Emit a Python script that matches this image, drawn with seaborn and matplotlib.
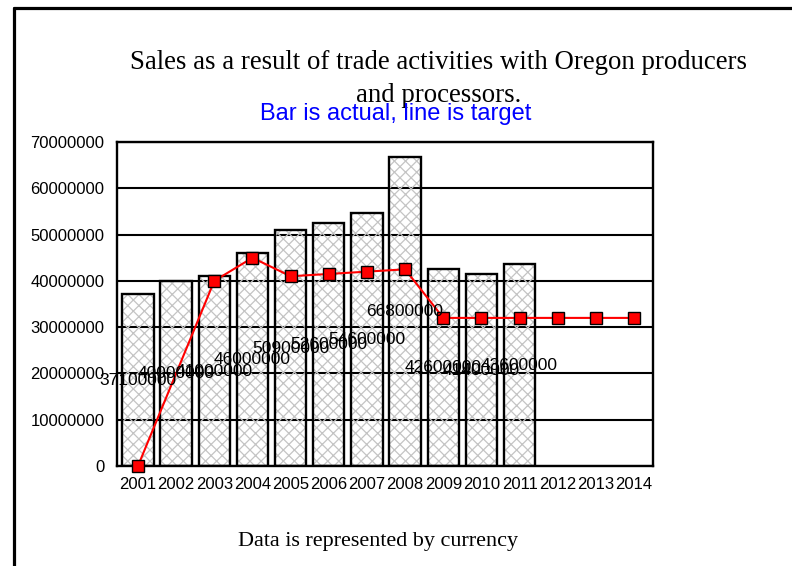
import pandas as pd
import numpy as np
import matplotlib.pyplot as plt
import seaborn as sns

# Chart data

years = [2001, 2002, 2003, 2004, 2005, 2006, 2007, 2008, 2009, 2010, 2011, 2012, 2013, 2014]
actual = [37100000, 40000000, 41000000, 46000000, 50900000, 52600000, 54600000,
          66800000, 42600000, 41400000, 43600000, None, None, None]
target = [0, None, 40000000, 45000000, 41000000, 41500000, 42000000,
          42500000, 32000000, 32000000, 32000000, 32000000, 32000000, 32000000]

title = 'Sales as a result of trade activities with Oregon producers\nand processors.'
subtitle = 'Bar is actual, line is target'
footer = 'Data is represented by currency'

df = pd.DataFrame({'year': years, 'actual': actual, 'target': target})
df_bars = df.dropna(subset=['actual'])
df_line = df.dropna(subset=['target'])

# Style

sns.set_style('white')
plt.rcParams['font.family'] = ['Liberation Sans', 'DejaVu Sans']
plt.rcParams['text.color'] = 'black'
plt.rcParams['hatch.linewidth'] = 0.9

fig = plt.figure(figsize=(7.92, 5.66), dpi=100)
ax = fig.add_axes([0.1477, 0.1767, 0.677, 0.5723])

# Bars: grey hatch first, then black outline on top

sns.barplot(data=df_bars, x='year', y='actual', native_scale=True, width=0.82,
            facecolor='none', edgecolor='#c4c4c4', linewidth=0, hatch='xxx',
            ax=ax, zorder=2)
sns.barplot(data=df_bars, x='year', y='actual', native_scale=True, width=0.82,
            color='black', fill=False, linewidth=1.7, ax=ax, zorder=3)

ax.bar_label(ax.containers[-1], labels=[f'{v:.0f}' for v in df_bars['actual']],
             label_type='center', fontsize=12.5, color='black', zorder=5)

# Target line

sns.lineplot(data=df_line, x='year', y='target', color='red', linewidth=1.5,
             marker='s', markersize=9, markerfacecolor='red', markeredgecolor='black',
             markeredgewidth=1.0, ax=ax, zorder=4, clip_on=False)

# Axes

ax.set_xlim(2000.45, 2014.5)
ax.set_ylim(0, 70000000)
ax.set_xticks(years)
ax.set_xticklabels([str(y) for y in years])
ax.set_yticks(np.arange(0, 70000001, 10000000))
ax.ticklabel_format(style='plain', axis='y', useOffset=False)
ax.tick_params(axis='both', length=0, labelsize=12, colors='black')
ax.tick_params(axis='y', pad=9)
ax.tick_params(axis='x', pad=8)
ax.set_xlabel('')
ax.set_ylabel('')

ax.yaxis.grid(True, color='black', linewidth=1.5, linestyle='-')
ax.set_axisbelow(True)
for s in ax.spines.values():
    s.set_visible(True)
    s.set_color('black')
    s.set_linewidth(1.7)

# Texts

fig.text(0.554, 0.860, title, ha='center', va='center', fontsize=19.3, color='black',
         family=['Liberation Serif', 'DejaVu Serif'], linespacing=1.40)
fig.text(0.499, 0.798, subtitle, ha='center', va='center', fontsize=17, color='#0000ff')
fig.text(0.477, 0.044, footer, ha='center', va='center', fontsize=15.9, color='black',
         family=['Liberation Serif', 'DejaVu Serif'])

# Outer frame (left and top edges)

fig.add_artist(plt.Line2D([14 / 792, 14 / 792], [0, 1 - 8 / 566], color='black', linewidth=2.3))
fig.add_artist(plt.Line2D([14 / 792, 1], [1 - 8 / 566, 1 - 8 / 566], color='black', linewidth=2.3))

plt.savefig('out.png', dpi=100)
